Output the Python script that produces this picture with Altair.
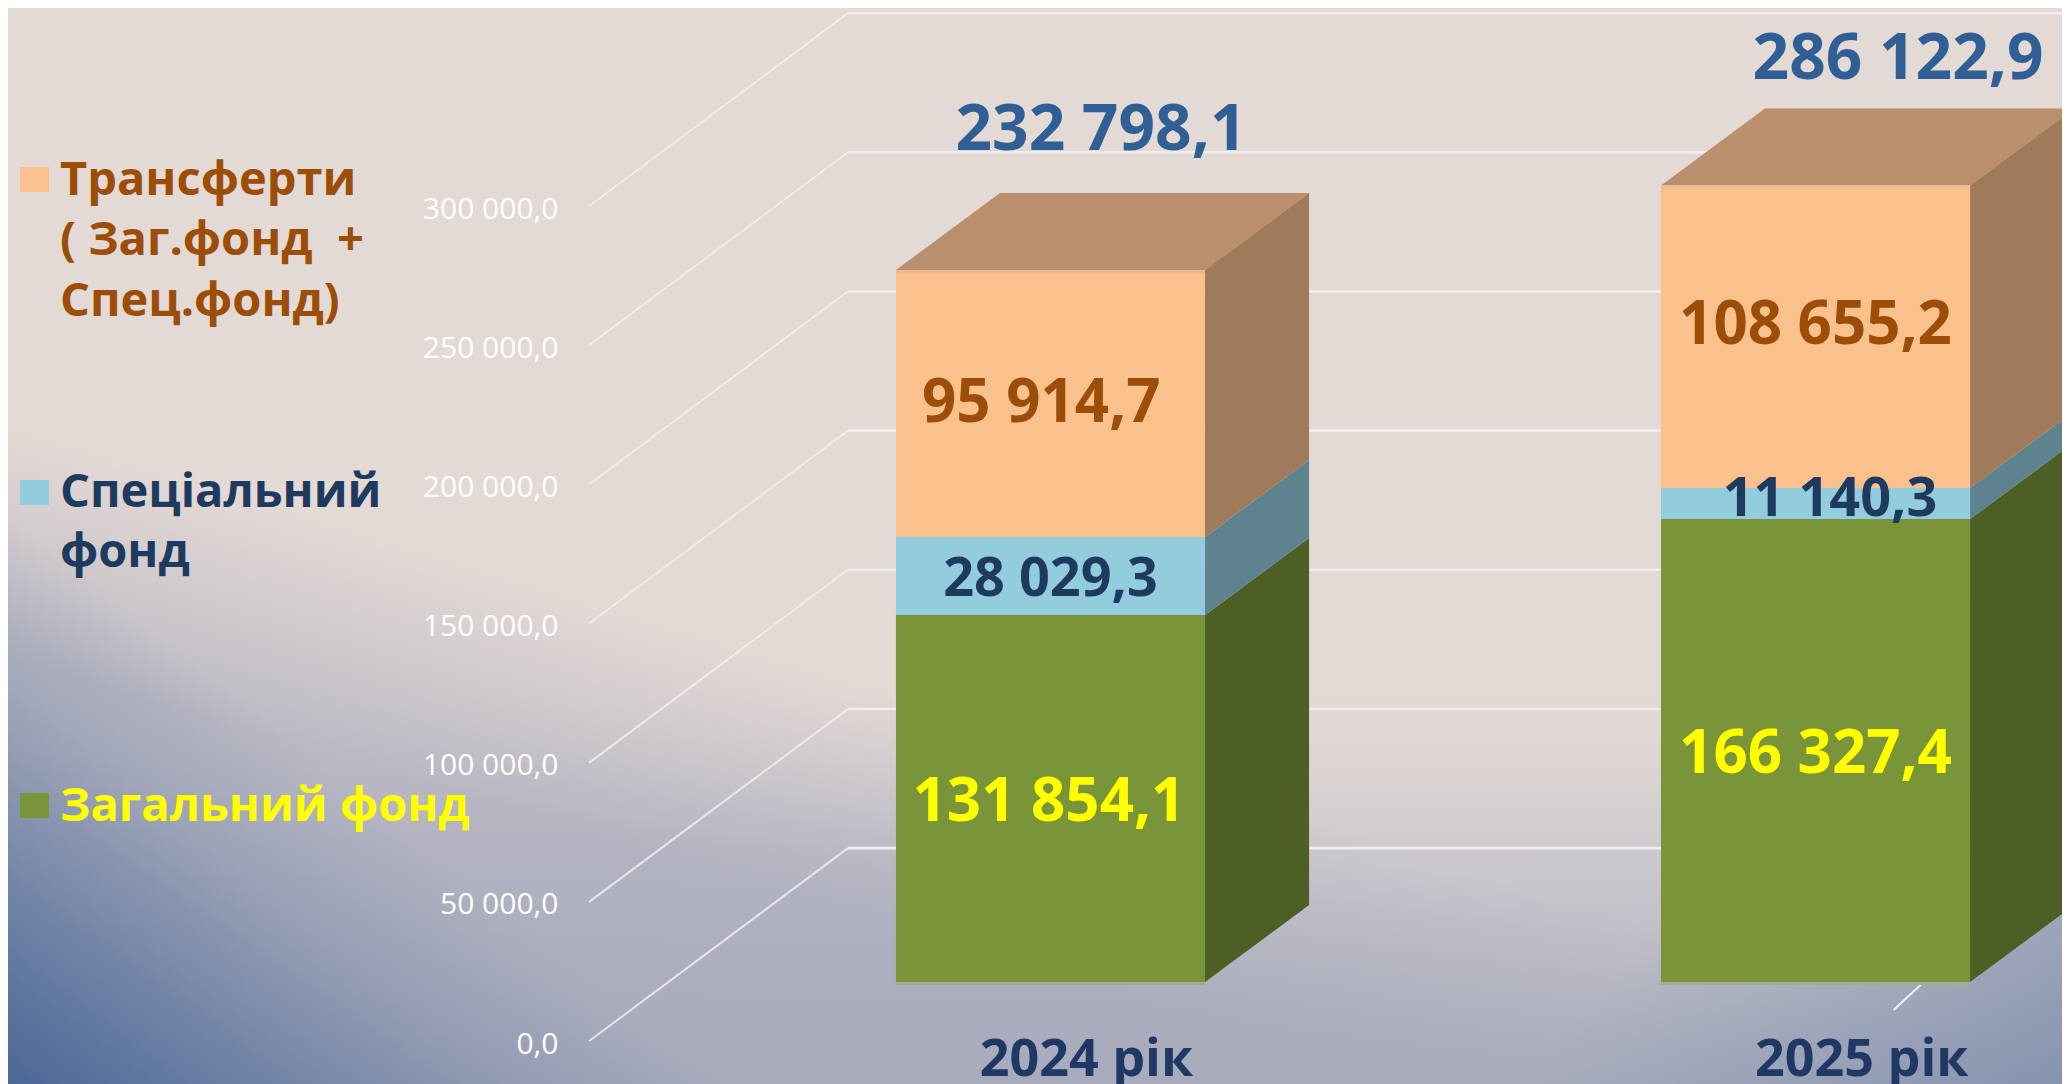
import altair as alt
import pandas as pd

# ---------- values ----------
YEARS = ["2024 рік", "2025 рік"]
SERIES = ["Загальний фонд", "Спеціальний фонд", "Трансферти"]
GENERAL = [131854.1, 166327.4]
SPECIAL = [28029.3, 11140.3]
TRANSFERS = [95914.7, 108655.2]
TOTALS = [232798.1, 286122.9]
TICKS = [0, 50000, 100000, 150000, 200000, 250000, 300000]
LEGEND_LINES = [
    ("Трансферти", 2), ("( Заг.фонд\u00a0\u00a0+", 2), ("Спец.фонд)", 2),
    ("Спеціальний", 1), ("фонд", 1),
    ("Загальний фонд", 0),
]

# ---------- styling ----------
FRONT = ["#7a943a", "#93cddd", "#fbc18d"]
SIDE = ["#4e5f26", "#5e838f", "#9f7b5b"]
TOP = "#ba8f6d"
TEXT = ["#ffff00", "#1f3a5f", "#9c4d07"]
TOTAL_COLOR = "#2f5f94"
NAVY = "#1f3864"
FONT = "Open Sans"

# ---------- layout ----------
W, H = 2054, 1076
PX = 0.0027833          # px per value unit
UNIT = 765.0            # px per category step
Y_DOM = [-36647, 349940]
X_DOM = [-1.3627, 1.3222]
BAR = 0.202              # half width in category units
DX = 0.136
DY = 77 / PX
FRONT_X, FRONT_Y = -0.603, -21200
BACK_X, BACK_Y = -0.2647, 48100

xs = alt.Scale(domain=X_DOM, nice=False, zero=False)
ys = alt.Scale(domain=Y_DOM, nice=False, zero=False)


def X(f):
    return alt.X(f, type="quantitative", scale=xs, axis=None, title=None)


def Y(f):
    return alt.Y(f, type="quantitative", scale=ys, axis=None, title=None, stack=None)


def fmt(v):
    return f"{v:,.1f}".replace(",", " ").replace(".", ",")


# ---------- derived tables ----------
front_rows, sides, tops, seg_labels, edges = [], [], [], [], []
SEG_DX = [[-0.002, 0.0], [0.0, 0.019], [-0.012, 0.0]]
SEG_UP = [[-4, -4], [-4, 4], [0, 11]]
SEG_SIZE = [60, 54, 60]
for c in range(2):
    base = 0.0
    for s, vals in enumerate([GENERAL, SPECIAL, TRANSFERS]):
        v = vals[c]
        front_rows.append(dict(x=c - BAR, x2=c + BAR, y=base, y2=base + v, fill=FRONT[s]))
        sides.append((SIDE[s], pd.DataFrame(dict(
            x=[c + BAR, c + BAR + DX], y=[base, base + DY], y2=[base + v, base + v + DY]))))
        seg_labels.append(dict(x=c + SEG_DX[s][c], y=base + v / 2 + SEG_UP[s][c] / PX,
                               t=fmt(v), color=TEXT[s], size=SEG_SIZE[s]))
        base += v
    tops.append(pd.DataFrame(dict(x=[c - BAR, c - BAR + DX], x2=[c + BAR, c + BAR + DX],
                                  y=[base, base + DY])))
    edges.append(dict(x=c - BAR, x2=c + BAR, y=-1.5 / PX, fill="#a3a99b"))
    edges.append(dict(x=c - BAR, x2=c + BAR, y=base - 1.5 / PX, fill="#efb98f"))

TOTAL_DX = [0.066, 0.108]
TOTAL_UP = [72950, 45140]
totals = pd.DataFrame(dict(x=[i + TOTAL_DX[i] for i in range(2)],
                           y=[TOTALS[i] + TOTAL_UP[i] for i in range(2)],
                           t=[fmt(v) for v in TOTALS]))
cats = pd.DataFrame(dict(x=[0.047, 0.0605 + 1], y=[-78 / PX] * 2, t=YEARS))

wall = pd.DataFrame(dict(x=[BACK_X] * len(TICKS), x2=[X_DOM[1]] * len(TICKS),
                         y=[t + BACK_Y for t in TICKS]))
slant_rows = []
for t in TICKS:
    slant_rows.append(dict(t=t, x=FRONT_X, y=t + FRONT_Y))
    slant_rows.append(dict(t=t, x=BACK_X, y=t + BACK_Y))
stub = pd.DataFrame(dict(x=[1.102, 1.191], y=[-28 / PX, 35 / PX]))
one = pd.DataFrame(dict(a=[0]))


def grad(stops, x1, y1, x2, y2):
    return alt.LinearGradient(
        gradient="linear", x1=x1, y1=y1, x2=x2, y2=y2,
        stops=[alt.GradientStop(offset=o, color=c) for o, c in stops])


def bg(fill):
    return alt.Chart(one).mark_rect(color=fill).encode(
        x=alt.value(0), x2=alt.value(W), y=alt.value(0), y2=alt.value(H))


layers = [
    bg("#e3d9d5"),
    bg(grad([(0.62, "rgba(227,217,213,0)"), (0.78, "rgba(205,201,206,1)"), (1, "rgba(172,176,190,1)")],
            0, 0, 0, 1)),
    bg(grad([(0, "rgba(165,168,186,0)"), (0.17, "rgba(165,168,186,0.3)"),
             (0.35, "rgba(165,168,186,0.65)"), (1, "rgba(165,168,186,0.7)")],
            0, 0.39, -0.264, 0.847)),
    bg(grad([(0, "rgba(74,104,150,0)"), (0.3, "rgba(74,104,150,0.22)"),
             (0.6, "rgba(74,104,150,0.55)"), (1, "rgba(74,104,150,1)")],
            0, 0.47, -0.244, 0.631)),
    bg(grad([(0, "rgba(110,130,165,0)"), (1, "rgba(110,130,165,0.6)")], 0.78, 0.9, 1, 1)),
]

# back wall and slanted lines
layers.append(alt.Chart(wall).mark_rule(color="#f3eeee", strokeWidth=2.6).encode(
    x=X("x"), x2="x2", y=Y("y")))
layers.append(alt.Chart(pd.DataFrame(slant_rows)).mark_line(color="#f3eff0", strokeWidth=2, opacity=0.85).encode(
    x=X("x"), y=Y("y"), detail="t:N", order="x:Q"))
layers.append(alt.Chart(stub).mark_line(color="#f3eff0", strokeWidth=2).encode(x=X("x"), y=Y("y")))

# value axis, drawn on the near plane of the box
layers.append(alt.Chart(pd.DataFrame(dict(v=TICKS))).mark_point(opacity=0).encode(
    y=alt.Y("v:Q", title=None,
            scale=alt.Scale(domain=[Y_DOM[0] - FRONT_Y + 3 / PX, Y_DOM[1] - FRONT_Y + 3 / PX], nice=False, zero=False),
            axis=alt.Axis(values=TICKS, orient="left", offset=-550, domain=False, ticks=False, grid=False,
                          zindex=1, labelPadding=0, labelColor="#ffffff", labelFont=FONT, labelFontSize=30,
                          labelOverlap=False, labelFlush=False,
                          labelExpr="replace(replace(format(datum.value, ',.1f'), ',', ' '), '.', ',')"))))

# box faces
for df in tops:
    layers.append(alt.Chart(df).mark_area(orient="horizontal", color=TOP).encode(
        x=X("x"), x2="x2", y=Y("y")))
for fill, df in sides:
    layers.append(alt.Chart(df).mark_area(orient="vertical", color=fill).encode(
        x=X("x"), y=Y("y"), y2="y2"))
layers.append(alt.Chart(pd.DataFrame(front_rows)).mark_rect().encode(
    x=X("x"), x2="x2", y=Y("y"), y2="y2", color=alt.Color("fill:N", scale=None)))
layers.append(alt.Chart(pd.DataFrame(edges)).mark_rule(strokeWidth=3).encode(
    x=X("x"), x2="x2", y=Y("y"), color=alt.Color("fill:N", scale=None)))

# labels
for row in seg_labels:
    layers.append(alt.Chart(pd.DataFrame([row])).mark_text(
        font=FONT, fontWeight="bold", fontSize=row["size"], color=row["color"], baseline="middle", align="center"
    ).encode(x=X("x"), y=Y("y"), text="t:N"))
layers.append(alt.Chart(totals).mark_text(
    font=FONT, fontWeight="bold", fontSize=64, color=TOTAL_COLOR, baseline="middle", align="center"
).encode(x=X("x"), y=Y("y"), text="t:N"))
layers.append(alt.Chart(cats).mark_text(
    font=FONT, fontWeight="bold", fontSize=52, color=NAVY, baseline="middle", align="center"
).encode(x=X("x"), y=Y("y"), text="t:N"))

# legend
LEG_Y = [173, 233, 294, 485, 545, 799]
for i, (line, s) in enumerate(LEGEND_LINES):
    layers.append(alt.Chart(one).mark_text(
        font=FONT, fontWeight="bold", fontSize=47, color=TEXT[s], baseline="middle", align="left", text=line
    ).encode(x=alt.value(52), y=alt.value(LEG_Y[i])))
for s, y0 in zip([0, 1, 2], [785, 472, 159]):
    layers.append(alt.Chart(one).mark_rect(color=FRONT[s]).encode(
        x=alt.value(12), x2=alt.value(41), y=alt.value(y0), y2=alt.value(y0 + 25)))

chart = alt.layer(*layers).resolve_scale(y="independent").properties(
    width=W, height=H, padding=0, autosize=alt.AutoSizeParams(type="none"),
    background="#e3d9d5"
).configure_view(stroke=None)

chart.save("out.html", embed_options={"renderer": "svg", "actions": False})
